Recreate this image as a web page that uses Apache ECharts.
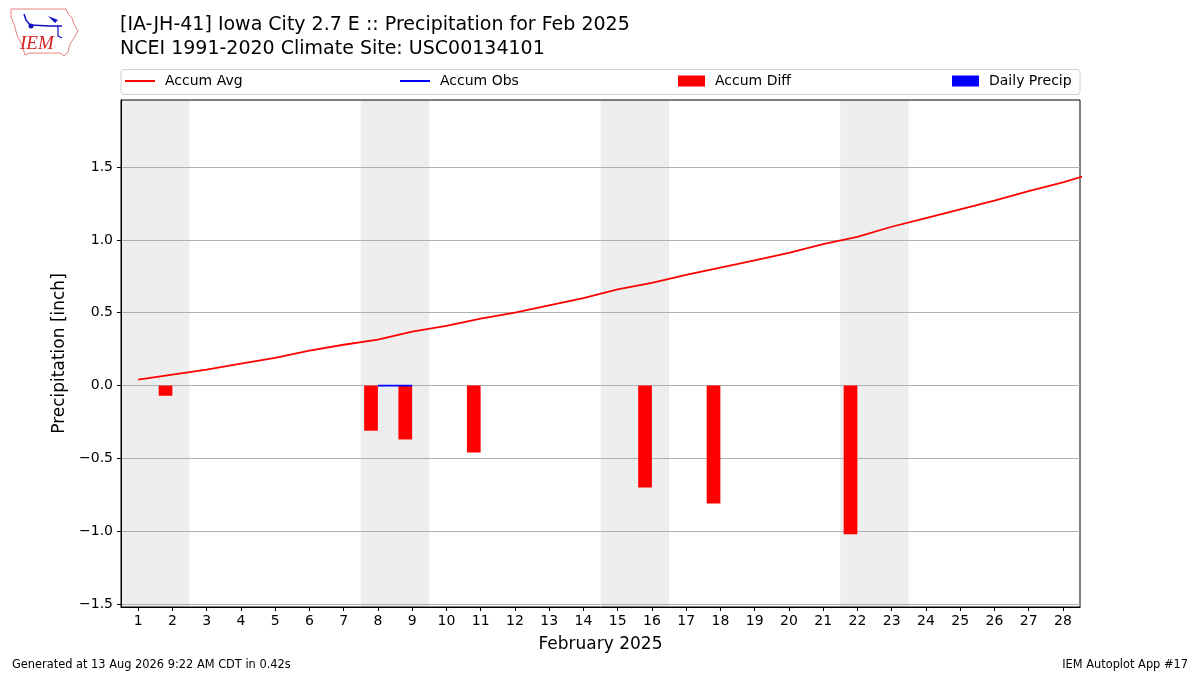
<!DOCTYPE html>
<html>
<head>
<meta charset="utf-8">
<script src="https://cdn.jsdelivr.net/npm/echarts@6/dist/echarts.min.js"></script>
<style>
html, body { margin: 0; padding: 0; background: #fff; }
#main { width: 1200px; height: 675px; }
</style>
</head>
<body>
<div id="main"></div>
<script>
// day of month (avg climatology also has the leap day, clipped at the edge)
var days = [1, 2, 3, 4, 5, 6, 7, 8, 9, 10, 11, 12, 13, 14, 15, 16, 17, 18, 19, 20, 21, 22, 23, 24, 25, 26, 27, 28, 29];
var accumAvg = [0.04, 0.075, 0.11, 0.15, 0.19, 0.24, 0.28, 0.315, 0.37, 0.41, 0.46, 0.50, 0.55, 0.60,
    0.66, 0.705, 0.76, 0.81, 0.86, 0.91, 0.97, 1.02, 1.09, 1.15, 1.21, 1.27, 1.335, 1.395, 1.465];
// days that have an observation
var obsDays = [2, 8, 9, 11, 16, 18, 22];
var accumObs = [0, 0, 0, 0, 0, 0, 0];
var accumDiff = [-0.07, -0.31, -0.37, -0.46, -0.70, -0.81, -1.02];
var dailyPrecip = [0, 0, 0, 0, 0, 0, 0];
var weekendStarts = [1, 8, 15, 22];
var xTicks = [1, 2, 3, 4, 5, 6, 7, 8, 9, 10, 11, 12, 13, 14, 15, 16, 17, 18, 19, 20, 21, 22, 23, 24, 25, 26, 27, 28];
var yTicks = [-1.5, -1.0, -0.5, 0, 0.5, 1.0, 1.5];

var FONT = 'DejaVu Sans';
var gridLeft = 121, gridRight = 120, gridTop = 100, gridBottom = 68;
var dayPx = (1200 - gridLeft - gridRight) / 28;
var barW = 0.4 * dayPx;

var myChart = echarts.init(document.getElementById('main'));

// 平均累计线
var avgData = [];
for (var i = 0; i < days.length; i++) {
    avgData.push([days[i], accumAvg[i]]);
}
// 观测累计线，缺测日断开
var obsData = [];
for (var d = 1; d <= 28; d++) {
    var k = obsDays.indexOf(d);
    obsData.push([d, k >= 0 ? accumObs[k] : null]);
}
var diffData = [], precipData = [];
for (var j = 0; j < obsDays.length; j++) {
    diffData.push([obsDays[j] - 0.2, accumDiff[j]]);
    precipData.push([obsDays[j] + 0.2, dailyPrecip[j]]);
}
var weekendAreas = [];
for (var w = 0; w < weekendStarts.length; w++) {
    weekendAreas.push([{ xAxis: weekendStarts[w] - 0.5 }, { xAxis: weekendStarts[w] + 1.5 }]);
}

function yFmt(v) {
    return (v < 0 ? '\u2212' : '') + Math.abs(v).toFixed(1);
}

function legendAt(name, left, isLine) {
    return {
        data: [{ name: name, icon: 'rect' }],
        left: left,
        top: 74,
        padding: 0,
        itemWidth: isLine ? 30 : 27,
        itemHeight: isLine ? 2 : 11,
        itemGap: 0,
        selectedMode: false,
        textStyle: { fontFamily: FONT, fontSize: 14, color: '#000', padding: [0, 0, 0, 5] }
    };
}

var option = {
    animation: false,
    backgroundColor: '#fff',
    textStyle: { fontFamily: FONT },
    title: [
        {
            text: '[IA-JH-41] Iowa City 2.7 E :: Precipitation for Feb 2025\nNCEI 1991-2020 Climate Site: USC00134101',
            left: 120, top: 13, padding: 0,
            textStyle: { fontFamily: FONT, fontSize: 19, fontWeight: 'normal', color: '#000', lineHeight: 24 }
        },
        {
            text: 'Generated at 13 Aug 2026 9:22 AM CDT in 0.42s',
            left: 12, top: 660, padding: 0,
            textStyle: { fontFamily: FONT, fontSize: 11.4, fontWeight: 'normal', color: '#000' }
        },
        {
            text: 'IEM Autoplot App #17',
            right: 12, top: 660, padding: 0,
            textStyle: { fontFamily: FONT, fontSize: 11.4, fontWeight: 'normal', color: '#000' }
        }
    ],
    legend: [
        legendAt('Accum Avg', 125, true),
        legendAt('Accum Obs', 400, true),
        legendAt('Accum Diff', 678, false),
        legendAt('Daily Precip', 952, false)
    ],
    graphic: [
        {
            type: 'rect', z: -1,
            shape: { x: 121, y: 69.5, width: 959, height: 25, r: 3 },
            style: { fill: '#fff', stroke: '#d0d0d0', lineWidth: 1 }
        },
        // IEM logo (rough)
        {
            type: 'polyline',
            shape: { points: [[11, 9], [66, 9], [68, 14], [72, 18], [74, 24], [78, 31], [74, 38], [70, 44], [68, 52], [64, 56], [60, 53], [30, 53], [25, 55], [22, 45], [17, 35], [14, 24], [11, 17], [11, 9]] },
            style: { stroke: '#e88080', fill: 'none', lineWidth: 1 }
        },
        {
            type: 'text', left: 20, top: 34,
            style: { text: 'IEM', fontFamily: 'Liberation Serif', fontStyle: 'italic', fontSize: 19, fill: '#d42020' }
        },
        {
            type: 'polyline',
            shape: { points: [[24, 14], [26, 20], [30, 25], [50, 26], [62, 26]] },
            style: { stroke: '#1010c0', lineWidth: 1.5, fill: 'none' }
        },
        {
            type: 'polygon',
            shape: { points: [[48, 16], [58, 20], [55, 23]] },
            style: { fill: '#1010c0' }
        },
        {
            type: 'circle',
            shape: { cx: 31, cy: 26, r: 2.5 },
            style: { fill: '#1010c0' }
        },
        {
            type: 'polyline',
            shape: { points: [[58, 26], [58, 36], [62, 38]] },
            style: { stroke: '#1010c0', lineWidth: 1.2, fill: 'none' }
        }
    ],
    grid: {
        left: gridLeft, right: gridRight, top: gridTop, bottom: gridBottom,
        show: true, borderColor: '#000', borderWidth: 1, backgroundColor: 'transparent'
    },
    xAxis: {
        type: 'value',
        min: 0.5, max: 28.5,
        name: 'February 2025',
        nameLocation: 'middle',
        nameGap: 29,
        nameTextStyle: { fontFamily: FONT, fontSize: 17, color: '#000' },
        axisLine: { onZero: false, lineStyle: { color: '#000' } },
        axisTick: { show: true, length: 4, customValues: xTicks, lineStyle: { color: '#000' } },
        axisLabel: { customValues: xTicks, fontFamily: FONT, fontSize: 14, color: '#000', margin: 7 },
        splitLine: { show: false }
    },
    yAxis: {
        type: 'value',
        min: -1.52, max: 1.96,
        name: 'Precipitation [inch]',
        nameLocation: 'middle',
        nameGap: 50,
        nameTextStyle: { fontFamily: FONT, fontSize: 17, color: '#000' },
        axisLine: { show: true, lineStyle: { color: '#000' } },
        axisTick: { show: true, length: 4, customValues: yTicks, lineStyle: { color: '#000' } },
        axisLabel: { customValues: yTicks, formatter: yFmt, fontFamily: FONT, fontSize: 14, color: '#000', margin: 8 },
        splitLine: { show: true, lineStyle: { color: '#b0b0b0', width: 1 } }
    },
    series: [
        {
            // 周末底色，放在网格线下面
            name: 'weekend',
            type: 'line',
            data: [],
            z: -1,
            silent: true,
            markArea: {
                silent: true,
                z: -1,
                itemStyle: { color: '#eeeeee' },
                data: weekendAreas
            }
        },
        {
            name: 'Accum Avg',
            type: 'line',
            data: avgData,
            showSymbol: false,
            clip: true,
            lineStyle: { color: '#ff0000', width: 1.8 },
            itemStyle: { color: '#ff0000' },
            z: 4
        },
        {
            name: 'Accum Obs',
            type: 'line',
            data: obsData,
            showSymbol: false,
            connectNulls: false,
            lineStyle: { color: '#0000ff', width: 1.8 },
            itemStyle: { color: '#0000ff' },
            z: 4
        },
        {
            name: 'Accum Diff',
            type: 'bar',
            data: diffData,
            barWidth: barW,
            barGap: '-100%',
            itemStyle: { color: '#ff0000' },
            z: 3
        },
        {
            name: 'Daily Precip',
            type: 'bar',
            data: precipData,
            barWidth: barW,
            barGap: '-100%',
            itemStyle: { color: '#0000ff' },
            z: 3
        }
    ]
};
myChart.setOption(option);
</script>
</body>
</html>
